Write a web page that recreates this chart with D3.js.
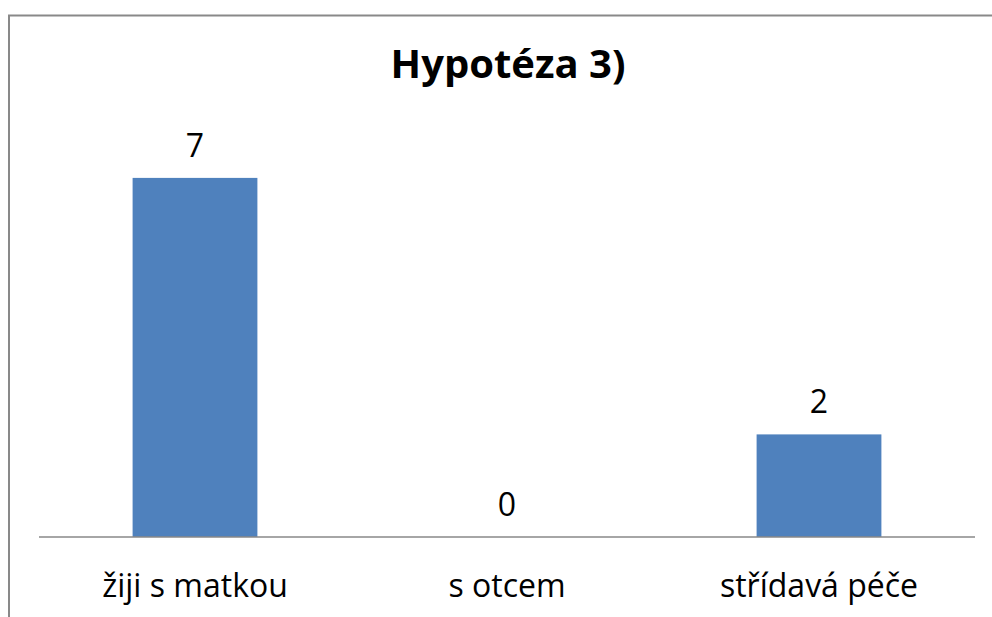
<!DOCTYPE html>
<html><head><meta charset="utf-8">
<script src="https://cdn.jsdelivr.net/npm/d3@7"></script>
<style>html,body{margin:0;padding:0;background:#fff;}svg{display:block;}</style>
</head><body>
<script>
const categories = ["žiji s matkou", "s otcem", "střídavá péče"];
const values = [7, 0, 2];
const title = "Hypotéza 3)";

const W = 992, H = 617;
const svg = d3.select("body").append("svg").attr("width", W).attr("height", H);
const font = "'Open Sans', 'Noto Sans', sans-serif";

// frame (partially visible)
svg.append("path").attr("d", `M9,${H} V15.5 H${W}`)
  .attr("fill", "none").attr("stroke", "#898989").attr("stroke-width", 2);

const x = d3.scaleBand().domain(categories).range([39, 975]).paddingInner(0.6).paddingOuter(0.3);
const y = d3.scaleLinear().domain([0, 8]).range([537, 126.6]);

svg.append("text").attr("x", 508).attr("y", 78).attr("text-anchor", "middle")
  .attr("font-family", font).attr("font-weight", "bold").attr("font-size", 40).attr("fill", "#000").text(title);

svg.selectAll("rect.bar").data(values).enter().append("rect").attr("class", "bar")
  .attr("x", (d, i) => x(categories[i])).attr("width", x.bandwidth())
  .attr("y", d => y(d)).attr("height", d => y(0) - y(d)).attr("fill", "#4F81BD");

svg.selectAll("text.val").data(values).enter().append("text").attr("class", "val")
  .attr("x", (d, i) => x(categories[i]) + x.bandwidth() / 2).attr("y", d => y(d) - 21)
  .attr("text-anchor", "middle").attr("font-family", font).attr("font-size", 32).attr("fill", "#000")
  .text(d => d);

const axis = d3.axisBottom(x).tickSize(0).tickPadding(0);
const g = svg.append("g").attr("transform", `translate(0,${y(0)})`).call(axis);
g.select(".domain").attr("stroke", "#898989").attr("stroke-width", 1.5).attr("d", "M39,0H975");
g.selectAll(".tick text").attr("font-family", font).attr("font-size", 32).attr("fill", "#000")
  .attr("dy", null).attr("y", 60);
</script>
</body></html>
